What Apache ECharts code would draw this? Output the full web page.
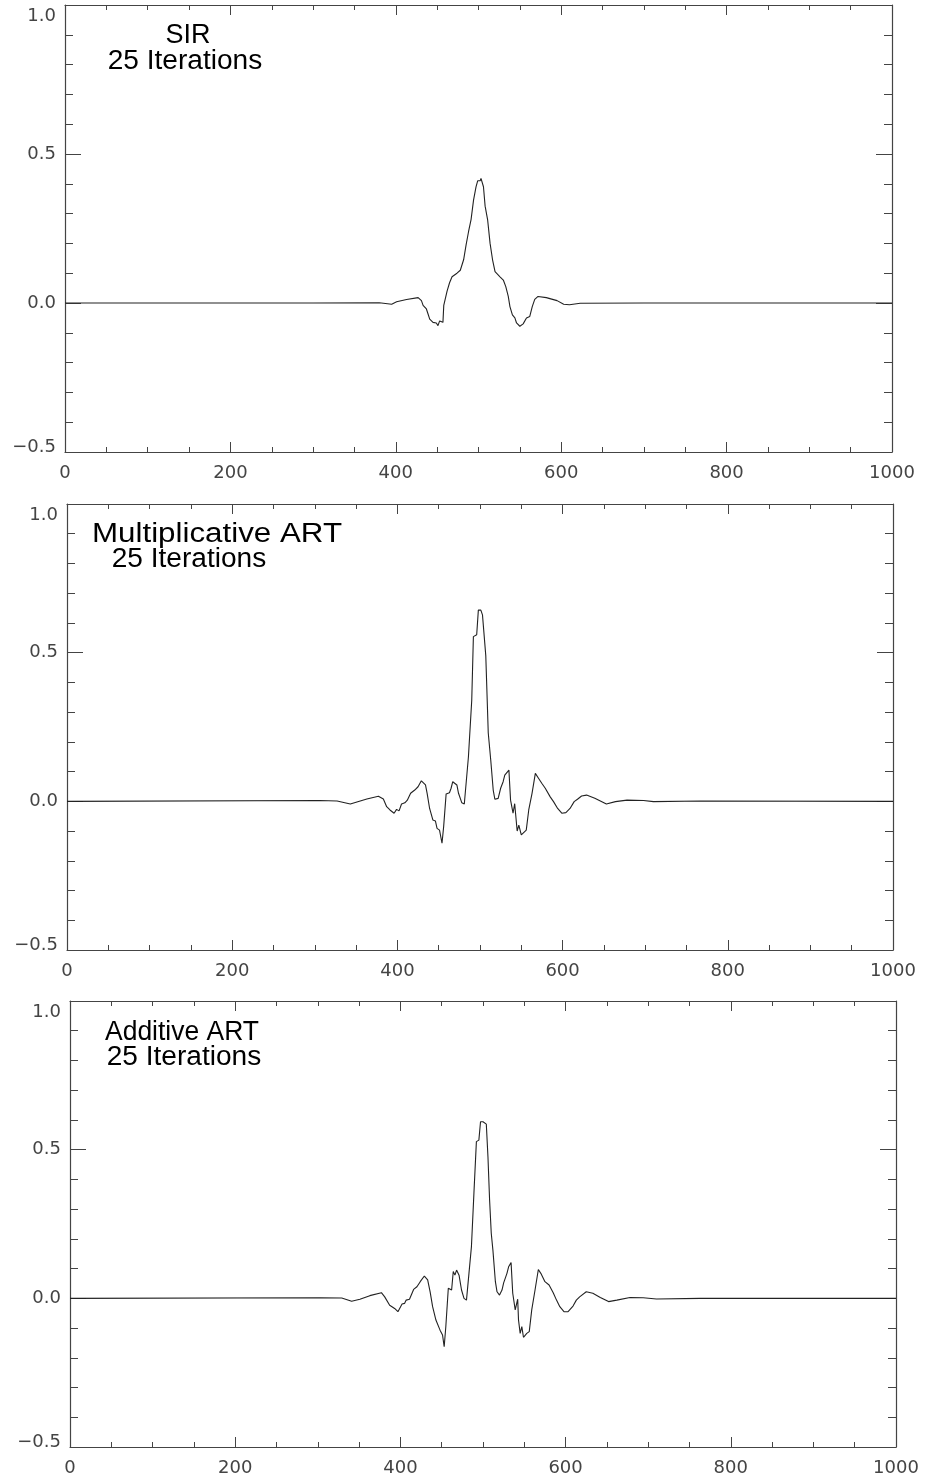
<!DOCTYPE html>
<html>
<head>
<meta charset="utf-8">
<script src="https://cdn.jsdelivr.net/npm/echarts@6/dist/echarts.min.js"></script>
<style>
html,body{margin:0;padding:0;background:#fff;}
#c{width:926px;height:1479px;}
</style>
</head>
<body>
<div id="c"></div>
<script>
// ---- data ----
const xTicks = [0, 200, 400, 600, 800, 1000];
const yTicks = [-0.5, 0.0, 0.5, 1.0];
const titles = [["SIR", "25 Iterations"], ["Multiplicative ART", "25 Iterations"], ["Additive ART", "25 Iterations"]];

const sirX = [0,300,380,395,401,413,427,431,433,437,439,441,445,449,451,453,457,458,462,465,468,474,478,482,485,488,491,494,497,499,501,502,503,506,508,511,514,517,520,526,530,533,536,538,541,544,546,550,554,558,562,565,568,572,582,595,603,610,623,700,1000];
const sirY = [0,0,0.001,-0.004,0.004,0.012,0.018,0.008,-0.008,-0.02,-0.037,-0.054,-0.065,-0.067,-0.076,-0.06,-0.065,-0.008,0.04,0.068,0.088,0.10,0.11,0.145,0.195,0.24,0.28,0.345,0.39,0.41,0.405,0.41,0.418,0.39,0.325,0.28,0.20,0.145,0.105,0.088,0.077,0.055,0.022,-0.012,-0.04,-0.05,-0.067,-0.078,-0.07,-0.05,-0.045,-0.012,0.012,0.022,0.018,0.008,-0.004,-0.006,-0.001,0,0];

const multX = [0,306,327,343,351,363,377,383,387,391,396,399,402,405,409,412,416,421,425,429,434,436,439,441,443,446,448,451,454,456,459,463,465,467,469,472,474,478,481,486,490,492,496,498,501,503,505,507,510,513,516,518,522,525,528,530,535,537,540,542,545,547,550,552,556,559,563,567,571,575,579,585,589,594,599,604,609,614,618,623,629,639,653,664,678,698,710,767,1000];
const multY = [0,0.003,0.001,-0.009,-0.002,0.008,0.017,0.008,-0.018,-0.029,-0.04,-0.027,-0.032,-0.009,-0.005,0.004,0.027,0.038,0.049,0.069,0.055,0.027,-0.024,-0.018,-0.063,-0.066,-0.091,-0.097,-0.141,-0.085,0.025,0.029,0.044,0.066,0.072,0.055,0.027,-0.005,-0.009,0.15,0.34,0.554,0.56,0.643,0.643,0.627,0.627,0.49,0.23,0.139,0.038,0.007,0.01,0.044,0.066,0.088,0.105,0.004,-0.04,-0.008,-0.10,-0.08,-0.113,-0.108,-0.097,-0.029,0.027,0.094,0.077,0.06,0.044,0.015,-0.001,-0.024,-0.04,-0.038,-0.024,-0.001,0.007,0.018,0.021,0.01,-0.009,-0.001,0.004,0.003,-0.001,0.001,0];

const addX = [0,303,329,341,351,363,377,381,387,393,397,402,405,407,411,416,420,424,429,433,436,439,441,443,445,448,451,453,455,458,462,464,466,468,471,474,477,480,483,486,489,492,495,497,500,502,504,506,508,510,512,515,517,520,523,525,529,531,534,536,539,542,543,545,547,549,553,556,559,563,567,570,575,580,585,589,593,598,603,609,613,617,625,633,642,652,662,678,694,710,763,1000];
const addY = [0,0.002,0.001,-0.01,-0.003,0.009,0.019,0.005,-0.023,-0.034,-0.045,-0.019,-0.017,-0.006,-0.003,0.03,0.039,0.056,0.075,0.062,0.022,-0.028,-0.03,-0.073,-0.075,-0.107,-0.123,-0.163,-0.095,0.034,0.028,0.09,0.078,0.095,0.078,0.028,0,-0.006,0.084,0.174,0.353,0.527,0.532,0.594,0.594,0.589,0.586,0.476,0.33,0.219,0.162,0.056,0.022,0.011,0.028,0.052,0.084,0.106,0.12,0.017,-0.039,-0.003,-0.073,-0.118,-0.095,-0.131,-0.118,-0.112,-0.039,0.028,0.097,0.084,0.056,0.045,0.019,-0.006,-0.028,-0.045,-0.045,-0.026,-0.006,0.005,0.022,0.017,0.003,-0.011,-0.006,0.003,0.002,-0.002,0,0];

// ---- layout ----
const grids = [
  {left: 65, top: 5, width: 827, height: 447},
  {left: 67, top: 504, width: 826, height: 446},
  {left: 70, top: 1001, width: 826, height: 446}
];
const titlePos = [
  {x: 188, y1: 36, sx1: 1.0, x2: 185, y2: 62},
  {x: 217, y1: 535, sx1: 1.16, x2: 189, y2: 560},
  {x: 182, y1: 1033, sx1: 0.98, x2: 184, y2: 1058}
];
const seriesX = [sirX, multX, addX];
const seriesY = [sirY, multY, addY];

const AX = '#444';
const LBL = {fontFamily: 'DejaVu Sans', fontSize: 18, color: '#444'};

function fmtY(v) {
  const s = (v < 0 ? '\u2212' : '') + Math.abs(v).toFixed(1);
  if (v === yTicks[yTicks.length - 1]) return '{t|' + s + '}';
  if (v === yTicks[0]) return '{b|' + s + '}';
  return '{n|' + s + '}';
}

const xAxes = [], yAxes = [], series = [], graphics = [];
grids.forEach((g, i) => {
  const common = {
    gridIndex: i, type: 'value', min: 0, max: 1000, interval: 200,
    axisLine: {show: true, onZero: false, lineStyle: {color: AX, width: 1.2}},
    splitLine: {show: false},
    axisTick: {show: true, inside: true, length: 10, lineStyle: {color: AX}},
    minorTick: {show: true, splitNumber: 4, length: 5, lineStyle: {color: AX}},
  };
  xAxes.push(Object.assign({}, common, {
    position: 'bottom',
    axisLabel: Object.assign({margin: 12, formatter: v => String(v)}, LBL)
  }));
  xAxes.push(Object.assign({}, common, {
    position: 'top',
    axisLabel: {show: false}
  }));
  const ycommon = {
    gridIndex: i, type: 'value', min: -0.5, max: 1.0, interval: 0.5,
    axisLine: {show: true, onZero: false, lineStyle: {color: AX, width: 1.2}},
    splitLine: {show: false},
    axisTick: {show: true, inside: true, length: 16, lineStyle: {color: AX}},
    minorTick: {show: true, splitNumber: 5, length: 8, lineStyle: {color: AX}},
  };
  yAxes.push(Object.assign({}, ycommon, {
    position: 'left',
    axisLabel: Object.assign({margin: 9, formatter: fmtY, rich: {
      t: Object.assign({padding: [22, 0, 0, 0]}, LBL),
      b: Object.assign({padding: [0, 0, 10, 0]}, LBL),
      n: Object.assign({}, LBL)
    }}, LBL)
  }));
  yAxes.push(Object.assign({}, ycommon, {
    position: 'right',
    axisLabel: {show: false}
  }));
  series.push({
    type: 'line', xAxisIndex: 2 * i, yAxisIndex: 2 * i,
    data: seriesX[i].map((x, k) => [x, seriesY[i][k]]),
    showSymbol: false, symbol: 'none',
    lineStyle: {color: '#222', width: 1.1},
    animation: false
  });
  const tp = titlePos[i];
  graphics.push({type: 'text', x: tp.x, y: tp.y1, scaleX: tp.sx1,
    style: {text: titles[i][0], font: '27px "Liberation Sans"', fill: '#000', align: 'center', verticalAlign: 'middle'}});
  graphics.push({type: 'text', x: tp.x2, y: tp.y2, scaleX: 1.04,
    style: {text: titles[i][1], font: '27px "Liberation Sans"', fill: '#000', align: 'center', verticalAlign: 'middle'}});
});

const chart = echarts.init(document.getElementById('c'), null, {renderer: 'canvas'});
chart.setOption({
  animation: false,
  backgroundColor: '#fff',
  grid: grids,
  xAxis: xAxes,
  yAxis: yAxes,
  series: series,
  graphic: graphics
});
</script>
</body>
</html>
